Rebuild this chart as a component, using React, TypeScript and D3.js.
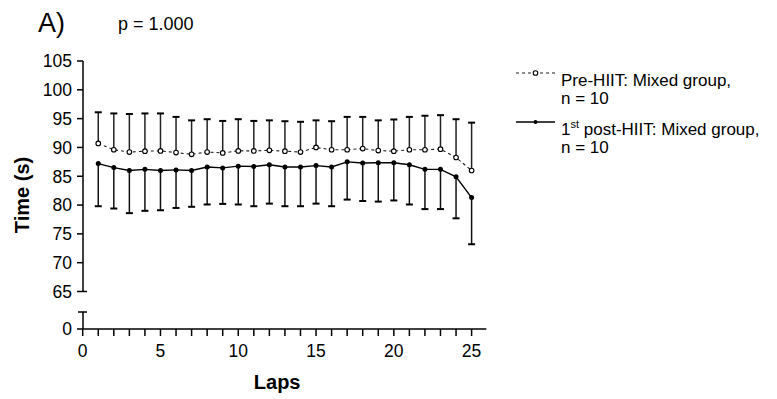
import React from "react";
import * as d3 from "d3";

// Lap numbers and the per-lap mean / SD for both groups
const laps = [1, 2, 3, 4, 5, 6, 7, 8, 9, 10, 11, 12, 13, 14, 15, 16, 17, 18, 19, 20, 21, 22, 23, 24, 25];
const preMean = [90.7, 89.6, 89.2, 89.35, 89.4, 89.1, 88.8, 89.2, 89.05, 89.4, 89.4, 89.5, 89.35, 89.2, 90.0, 89.6, 89.6, 89.8, 89.45, 89.35, 89.6, 89.6, 89.7, 88.25, 86.0];
const preSD = [5.4, 6.3, 6.6, 6.55, 6.5, 6.2, 5.9, 5.7, 5.55, 5.5, 5.2, 5.2, 5.2, 5.25, 4.7, 4.95, 5.7, 5.5, 5.25, 5.5, 5.7, 5.9, 5.9, 6.65, 8.3];
const postMean = [87.2, 86.5, 86.0, 86.2, 86.0, 86.1, 86.0, 86.6, 86.45, 86.75, 86.7, 87.0, 86.6, 86.6, 86.85, 86.6, 87.5, 87.3, 87.35, 87.35, 87.0, 86.2, 86.2, 84.9, 81.3];
const postSD = [7.4, 7.1, 7.4, 7.2, 6.9, 6.6, 6.3, 6.5, 6.25, 6.65, 6.9, 6.75, 6.8, 6.8, 6.6, 6.8, 6.55, 6.6, 6.75, 6.55, 6.9, 6.9, 6.9, 7.2, 8.1];

const yTicksUpper = [65, 70, 75, 80, 85, 90, 95, 100, 105];
const yTicksLower = [0];
const xMajorTicks = [0, 5, 10, 15, 20, 25];
const xMinorTicks = [0, 1, 2, 3, 4, 5, 6, 7, 8, 9, 10, 11, 12, 13, 14, 15, 16, 17, 18, 19, 20, 21, 22, 23, 24, 25];

const FONT = "'Liberation Sans', Arial, Helvetica, sans-serif";

export default function App() {
  const W = 777;
  const H = 399;

  const x = d3.scaleLinear().domain([0, 25]).range([82.7, 471.6]);
  const yUp = d3.scaleLinear().domain([65, 105]).range([291.5, 61]);
  const yLow = d3.scaleLinear().domain([0, 3]).range([329, 312]);
  const axisX = 83;
  const axisEnd = x(25.95);

  const preLine = d3.line<number>().x((_, i) => x(laps[i])).y((d) => yUp(d));
  const postLine = d3.line<number>().x((_, i) => x(laps[i])).y((d) => yUp(d));

  const capW = 3.5;

  return (
    <svg
      width={W}
      height={H}
      style={{ position: "absolute", left: 0, top: 0, background: "#fff" }}
      fontFamily={FONT}
    >
      <rect width={W} height={H} fill="#fff" />

      {/* panel letter and p-value */}
      <text x={38} y={32} fontSize={27} fill="#000">A)</text>
      <text x={118} y={29.5} fontSize={18} fill="#000">p = 1.000</text>

      {/* upper y segment */}
      <line x1={axisX} x2={axisX} y1={yUp(105)} y2={yUp(65)} stroke="#000" strokeWidth={1.5} />
      {yTicksUpper.map((t) => (
        <g key={"yt" + t}>
          <line
            x1={axisX - 6}
            x2={t === 65 ? axisX + 4 : axisX}
            y1={yUp(t)}
            y2={yUp(t)}
            stroke="#000"
            strokeWidth={1.5}
          />
          <text x={axisX - 11} y={yUp(t)} dy="0.36em" textAnchor="end" fontSize={17.5} fill="#000">
            {t}
          </text>
        </g>
      ))}

      {/* lower y segment below the break */}
      <line x1={axisX} x2={axisX} y1={yLow(3)} y2={yLow(0)} stroke="#000" strokeWidth={1.5} />
      <line x1={axisX - 5} x2={axisX + 4} y1={yLow(3)} y2={yLow(3)} stroke="#000" strokeWidth={1.5} />
      {yTicksLower.map((t) => (
        <g key={"yl" + t}>
          <line x1={axisX - 6} x2={axisX} y1={yLow(t)} y2={yLow(t)} stroke="#000" strokeWidth={1.5} />
          <text x={axisX - 11} y={yLow(t)} dy="0.36em" textAnchor="end" fontSize={17.5} fill="#000">
            {t}
          </text>
        </g>
      ))}

      {/* x axis */}
      <line x1={axisX} x2={axisEnd} y1={yLow(0)} y2={yLow(0)} stroke="#000" strokeWidth={1.5} />
      {xMinorTicks.map((t) => (
        <line key={"xm" + t} x1={x(t)} x2={x(t)} y1={yLow(0)} y2={yLow(0) + 7} stroke="#000" strokeWidth={1.5} />
      ))}
      {xMajorTicks.map((t) => (
        <text key={"xl" + t} x={x(t)} y={356.5} textAnchor="middle" fontSize={17.5} fill="#000">
          {t}
        </text>
      ))}

      {/* axis titles */}
      <text x={x(12.5)} y={389} textAnchor="middle" fontSize={20} fontWeight="bold" fill="#000">
        Laps
      </text>
      <text
        transform={`translate(29,${(yUp(105) + yLow(0)) / 2}) rotate(-90)`}
        textAnchor="middle"
        fontSize={20}
        fontWeight="bold"
        fill="#000"
      >
        Time (s)
      </text>

      {/* pre-HIIT: upward error bars, dashed line, open circles */}
      {laps.map((l, i) => {
        const top = yUp(preMean[i] + preSD[i]);
        return (
          <g key={"pe" + l}>
            <line x1={x(l)} x2={x(l)} y1={yUp(preMean[i])} y2={top} stroke="#222" strokeWidth={1.5} />
            <line x1={x(l) - capW} x2={x(l) + capW} y1={top} y2={top} stroke="#000" strokeWidth={2} />
          </g>
        );
      })}
      <path d={preLine(preMean) ?? ""} fill="none" stroke="#222" strokeWidth={1.1} strokeDasharray="3,3" />
      {laps.map((l, i) => (
        <circle key={"pc" + l} cx={x(l)} cy={yUp(preMean[i])} r={2.3} fill="#fff" stroke="#000" strokeWidth={1.1} />
      ))}

      {/* 1st post-HIIT: downward error bars, solid line, filled dots */}
      {laps.map((l, i) => {
        const bot = yUp(postMean[i] - postSD[i]);
        return (
          <g key={"qe" + l}>
            <line x1={x(l)} x2={x(l)} y1={yUp(postMean[i])} y2={bot} stroke="#111" strokeWidth={1.5} />
            <line x1={x(l) - capW} x2={x(l) + capW} y1={bot} y2={bot} stroke="#000" strokeWidth={2} />
          </g>
        );
      })}
      <path d={postLine(postMean) ?? ""} fill="none" stroke="#000" strokeWidth={1.4} />
      {laps.map((l, i) => (
        <circle key={"qc" + l} cx={x(l)} cy={yUp(postMean[i])} r={2.5} fill="#000" />
      ))}

      {/* legend */}
      <g fontSize={17} fill="#000">
        <line x1={516} x2={555} y1={73} y2={73} stroke="#222" strokeWidth={1.1} strokeDasharray="3,3" />
        <circle cx={535.5} cy={73} r={2.3} fill="#fff" stroke="#000" strokeWidth={1.1} />
        <text x={561} y={86}>Pre-HIIT: Mixed group,</text>
        <text x={561} y={104}>n = 10</text>

        <line x1={516} x2={555} y1={122} y2={122} stroke="#000" strokeWidth={1.4} />
        <circle cx={535.5} cy={122} r={2} fill="#000" />
        <text x={561} y={135}>
          1<tspan fontSize={11} dy={-7}>st</tspan>
          <tspan dy={7}> post-HIIT: Mixed group,</tspan>
        </text>
        <text x={561} y={153}>n = 10</text>
      </g>
    </svg>
  );
}
